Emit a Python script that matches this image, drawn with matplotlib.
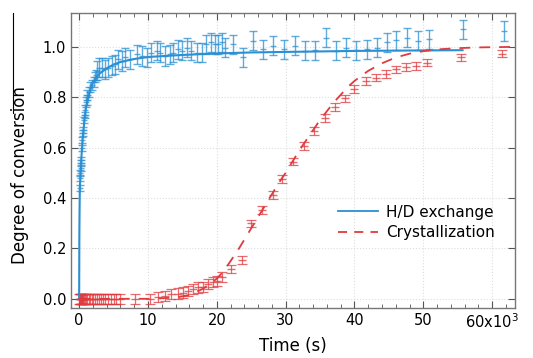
import matplotlib
matplotlib.use("Agg")
import matplotlib.pyplot as plt
from matplotlib.lines import Line2D
from matplotlib.ticker import MultipleLocator, FixedLocator, FixedFormatter, FormatStrFormatter

# H/D exchange data (time in s, degree of conversion, error)
hd_t = [100, 120, 150, 200, 250, 300, 400, 450, 550, 600, 700, 800, 900, 1000, 1100,
        1200, 1400, 1600, 1800, 2100, 2300, 2500,
        2600, 2900, 3300, 3800, 4200, 4700, 5200, 5700, 6200, 6700, 7400, 8400, 9100,
        9800, 10500, 11300, 11700, 12500, 13200, 13700, 14400, 14900, 15600, 16300,
        17100, 17800, 18500, 19200, 19700, 20200, 20700, 21200, 22400, 23800, 25300,
        26700, 28200, 29700, 31300, 32800, 34200, 35800, 37300, 38800, 40200, 41800,
        43200, 44700, 46100, 47700, 49200, 50800, 55700, 61700]
hd_v = [0.44, 0.48, 0.50, 0.52, 0.54, 0.55, 0.60, 0.63, 0.66, 0.67, 0.71, 0.73, 0.75,
        0.78, 0.79, 0.81, 0.82, 0.84, 0.85, 0.86, 0.88, 0.89,
        0.905, 0.918, 0.918, 0.911, 0.918, 0.925, 0.931, 0.951, 0.944, 0.958, 0.951,
        0.971, 0.964, 0.958, 0.977, 0.984, 0.977, 0.964, 0.971, 0.977, 0.991, 0.984,
        0.997, 0.984, 0.977, 0.977, 1.011, 1.018, 1.011, 1.011, 1.018, 0.997, 1.011,
        0.958, 1.024, 0.991, 1.004, 0.991, 1.004, 0.984, 0.987, 1.037, 0.984, 0.997,
        0.987, 0.991, 0.997, 1.018, 1.027, 1.037, 1.024, 1.03, 1.07, 1.063]
hd_err = [0.012] * 12 + [0.02] * 10 + [0.038] * 54

# H/D exchange fit
hd_fit_t = [0, 30, 60, 100, 300, 500, 800, 1000, 1500, 2000, 3000, 4000, 5000, 6000,
            8000, 10000, 15000, 20000, 25000, 30000, 40000, 50000, 55700]
hd_fit_v = [0.0, 0.25, 0.35, 0.44, 0.55, 0.63, 0.72, 0.76, 0.82, 0.86, 0.895, 0.915,
            0.93, 0.94, 0.952, 0.96, 0.968, 0.974, 0.978, 0.98, 0.984, 0.986, 0.987]

# Crystallization data
cr_t = [50, 100, 150, 200, 250, 300, 350, 400, 500, 600, 700, 800, 1000, 1200, 1400,
        1600, 1800, 2000, 2300, 2600, 2900, 3200, 3500, 3800, 4200, 4600, 5000, 5400,
        5900, 8100, 10300,
        11500, 12500, 13400, 14400, 15100, 15800, 16600, 17300, 18000, 18700, 19500,
        20000, 20700, 22100, 23600, 25000, 26500, 28100, 29500, 31100, 32600, 34100,
        35700, 37100, 38600, 40000, 41600, 43100, 44600, 46000, 47500, 48900, 50500,
        55500, 61500]
cr_v = [0.0] * 31 + [0.008, 0.012, 0.019, 0.021, 0.025, 0.032, 0.038, 0.045, 0.048,
                     0.058, 0.065, 0.071, 0.085, 0.118, 0.154, 0.299, 0.352, 0.411,
                     0.475, 0.545, 0.607, 0.667, 0.717, 0.762, 0.796, 0.832, 0.865,
                     0.878, 0.892, 0.911, 0.921, 0.925, 0.938, 0.958, 0.973]
cr_err = [0.02] * 31 + [0.02] * 13 + [0.015] * 22

# Crystallization fit
cr_fit_t = [0, 10000, 14000, 16000, 18000, 19000, 20000, 21000, 22000, 23000, 24000,
            25000, 26000, 27000, 28000, 29000, 30000, 31000, 32000, 33000, 34000,
            35000, 36000, 37000, 38000, 39000, 40000, 42000, 44000, 46000, 48000,
            50000, 52000, 55000, 58000, 63000]
cr_fit_v = [0.0, 0.0, 0.005, 0.015, 0.04, 0.06, 0.08, 0.11, 0.15, 0.19, 0.235, 0.28,
            0.325, 0.37, 0.415, 0.46, 0.50, 0.545, 0.59, 0.63, 0.67, 0.71, 0.745,
            0.78, 0.81, 0.84, 0.865, 0.905, 0.935, 0.958, 0.973, 0.983, 0.99, 0.995,
            0.998, 1.0]

blue = "#2b8fd3"
red = "#e03a3e"

fig = plt.figure(figsize=(5.33, 3.58), dpi=100)
ax = fig.add_axes([0.133, 0.14, 0.833, 0.824])

ax.grid(True, color="#dddddd", linestyle=":", linewidth=0.8)
ax.set_axisbelow(True)

ax.errorbar(hd_t, hd_v, yerr=hd_err, fmt="_", color=blue, ecolor=blue, alpha=0.75,
            markersize=5, elinewidth=1.0, capsize=3, capthick=1.0)
ax.errorbar(cr_t, cr_v, yerr=cr_err, fmt="_", color=red, ecolor=red, alpha=0.75,
            markersize=6, elinewidth=0.9, capsize=3.5, capthick=0.9)
ax.plot(hd_fit_t, hd_fit_v, color=blue, lw=1.5)
ax.plot(cr_fit_t, cr_fit_v, color=red, lw=1.3, dashes=(6, 5))

ax.set_xlim(-1200, 63300)
ax.set_ylim(-0.036, 1.135)

xticks = [0, 10000, 20000, 30000, 40000, 50000, 60000]
xlabels = ["0", "10", "20", "30", "40", "50", "60x10$^3$"]
ax.xaxis.set_major_locator(FixedLocator(xticks))
ax.xaxis.set_major_formatter(FixedFormatter(xlabels))
ax.xaxis.set_minor_locator(MultipleLocator(2000))
ax.yaxis.set_major_locator(MultipleLocator(0.2))
ax.yaxis.set_major_formatter(FormatStrFormatter("%.1f"))

ax.tick_params(which="both", direction="in", top=True, right=True, labelsize=10.5,
               color="#555555")
ax.tick_params(which="major", length=5)
ax.tick_params(which="minor", length=3)
ax.tick_params(axis="y", which="minor", left=False, right=False)
for s in ax.spines.values():
    s.set_color("#777777")
    s.set_linewidth(1.0)

ax.set_xlabel("Time (s)", fontsize=12, labelpad=4)
ax.set_ylabel("Degree of conversion", fontsize=12)
ax.yaxis.set_label_coords(-0.095, 0.45)

handles = [Line2D([], [], color=blue, lw=1.3),
           Line2D([], [], color=red, lw=1.3, dashes=(5, 4))]
ax.legend(handles, ["H/D exchange", "Crystallization"], loc="center right",
          bbox_to_anchor=(0.985, 0.29), frameon=False, fontsize=11,
          handlelength=2.6, handletextpad=0.5, labelspacing=0.35)

fig.add_artist(Line2D([12.7 / 533, 12.7 / 533], [1 - 13 / 358, 1 - 113 / 358],
                      color="black", lw=0.8))

fig.savefig("out.png", dpi=100)
